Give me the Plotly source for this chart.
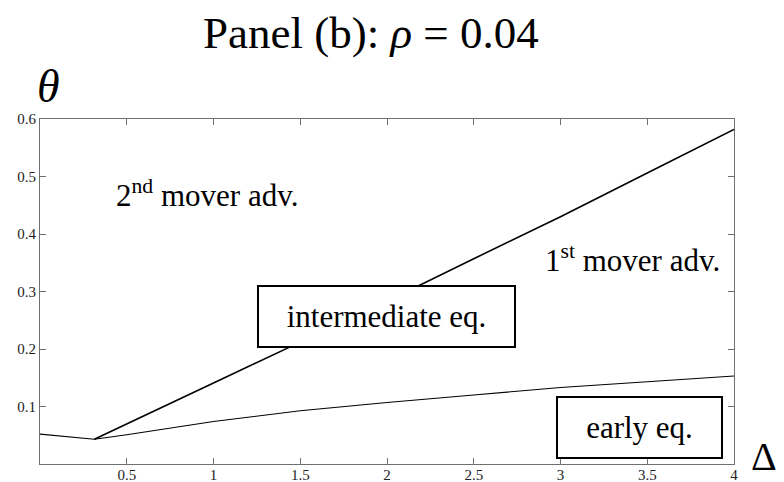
import plotly.graph_objects as go

# ---- data ----
lower_x = [0.0, 0.313, 0.5, 1.0, 1.5, 2.0, 2.5, 3.0, 3.5, 4.0]
lower_y = [0.052, 0.043, 0.051, 0.074, 0.0925, 0.107, 0.120, 0.133, 0.143, 0.153]
upper_x = [0.313, 0.5, 1.0, 1.5, 2.0, 2.5, 3.0, 3.5, 4.0]
upper_y = [0.043, 0.070, 0.141, 0.212, 0.283, 0.357, 0.430, 0.506, 0.582]

x_ticks = [0.5, 1, 1.5, 2, 2.5, 3, 3.5, 4]
x_tick_labels = ["0.5", "1", "1.5", "2", "2.5", "3", "3.5", "4"]
y_ticks = [0.1, 0.2, 0.3, 0.4, 0.5, 0.6]
y_tick_labels = ["0.1", "0.2", "0.3", "0.4", "0.5", "0.6"]

title_text = "Panel (b): <i>ρ</i> = 0.04"
y_label = "<i>θ</i>"
x_label = "Δ"
region_labels = ["2<sup>nd</sup> mover adv.", "1<sup>st</sup> mover adv."]
region_x = [0.965, 3.415]
region_y = [0.471, 0.357]
box_labels = ["intermediate eq.", "early eq."]
box_x = [1.997, 3.458]
box_y = [0.256, 0.0633]
box_w = [251, 159]

FONT = '"Liberation Serif", "Times New Roman", serif'
TICK_FONT = '"Liberation Serif", "DejaVu Serif", serif'
OFF = 8  # page margin of the host document
W, H = 784 - OFF, 482 - OFF
L, T = 40 - OFF, 119 - OFF
R = W - (734 - OFF)
B = H - (464 - OFF)
PW, PH = W - L - R, H - T - B


def px(x):
    return (x - OFF - L) / PW


def py(y):
    return (H - B - (y - OFF)) / PH


fig = go.Figure()
fig.add_trace(go.Scatter(x=lower_x, y=lower_y, mode="lines",
                         line=dict(color="black", width=1.1), hoverinfo="skip"))
fig.add_trace(go.Scatter(x=upper_x, y=upper_y, mode="lines",
                         line=dict(color="black", width=1.6), hoverinfo="skip"))

ann = []
ann.append(dict(text=title_text, x=px(371), y=py(33), xref="paper", yref="paper",
                xanchor="center", yanchor="middle", showarrow=False,
                font=dict(family=FONT, size=45, color="black")))
ann.append(dict(text=y_label, x=px(48), y=py(86), xref="paper", yref="paper",
                xanchor="center", yanchor="middle", showarrow=False,
                font=dict(family=FONT, size=46, color="black")))
ann.append(dict(text=x_label, x=px(764), y=py(456), xref="paper", yref="paper",
                xanchor="center", yanchor="middle", showarrow=False,
                font=dict(family=FONT, size=40, color="black")))
for t, x, y in zip(region_labels, region_x, region_y):
    ann.append(dict(text=t, x=x, y=y, xref="x", yref="y", showarrow=False,
                    font=dict(family=FONT, size=31, color="black")))
for t, x, y, w in zip(box_labels, box_x, box_y, box_w):
    ann.append(dict(text=t, x=x, y=y, xref="x", yref="y", showarrow=False,
                    font=dict(family=FONT, size=31, color="black"),
                    bgcolor="white", bordercolor="black", borderwidth=2,
                    borderpad=2, width=w, height=55))

axis_common = dict(showline=True, mirror="ticks", linecolor="#707070", linewidth=1,
                   ticks="inside", ticklen=6, tickcolor="#707070", showgrid=False,
                   zeroline=False, tickfont=dict(family=TICK_FONT, size=15, color="#222"))

fig.update_layout(
    width=W, height=H, margin=dict(l=L, r=R, t=T, b=B, autoexpand=False),
    paper_bgcolor="white", plot_bgcolor="white", showlegend=False,
    annotations=ann,
    xaxis=dict(range=[0, 4], tickvals=x_ticks, ticktext=x_tick_labels,
               ticklabelstandoff=-3, **axis_common),
    yaxis=dict(range=[0, 0.6], tickvals=y_ticks, ticktext=y_tick_labels, **axis_common),
)

fig.write_html("out.html")
